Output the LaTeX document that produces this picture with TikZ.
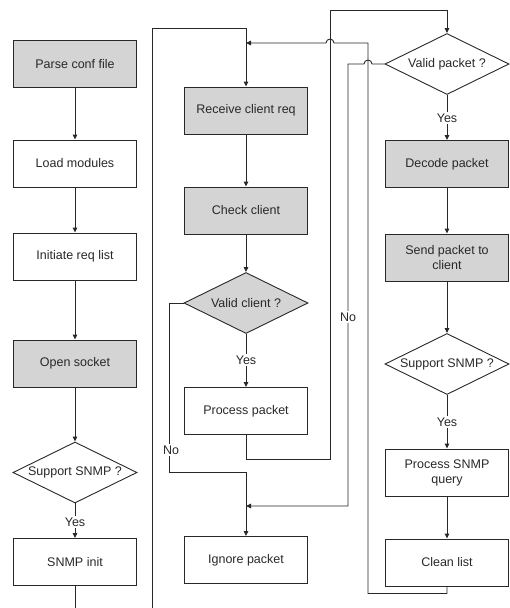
\documentclass[tikz,border=0pt]{standalone}
\usepackage{fontspec}
\setmainfont{Liberation Sans}
\usetikzlibrary{shapes.geometric,arrows.meta}
\definecolor{boxgray}{RGB}{212,212,212}
\definecolor{ink}{RGB}{40,40,40}
\begin{document}
\begin{tikzpicture}[x=1pt,y=-1pt,line width=0.9pt,draw=ink,
  every node/.style={font=\fontsize{12.5}{15}\selectfont,text=ink},
  proc/.style={draw=ink,rectangle,minimum width=123pt,minimum height=47pt,inner sep=0pt,align=center},
  shaded/.style={fill=boxgray},
  decide/.style={draw=ink,diamond,minimum width=124pt,minimum height=61pt,inner sep=0pt,aspect=2},
  lbl/.style={fill=white,inner sep=1.5pt},
  arr/.style={-{Triangle[length=5pt,width=4.5pt]}}]
\useasboundingbox (0,0) rectangle (509,608);
\node[proc,shaded] (parse) at (75,64) {Parse conf file};
\node[proc] (load) at (75,163.5) {Load modules};
\node[proc] (initreq) at (75,256.5) {Initiate req list};
\node[proc,shaded] (opensock) at (75,363.5) {Open socket};
\node[decide] (snmpL) at (75,472.5) {Support SNMP ?};
\node[proc] (snmpinit) at (75,562) {SNMP init};
\node[proc,shaded] (recv) at (246,110.5) {Receive client req};
\node[proc,shaded] (check) at (246,210.5) {Check client};
\node[decide,shaded] (validc) at (246,303) {Valid client ?};
\node[proc] (procpkt) at (246,411) {Process packet};
\node[proc] (ignore) at (246,560) {Ignore packet};
\node[decide] (validp) at (447,64) {Valid packet ?};
\node[proc,shaded] (decode) at (447,164) {Decode packet};
\node[proc,shaded] (sendpkt) at (447,257.5) {Send packet to\\client};
\node[decide] (snmpR) at (447,364) {Support SNMP ?};
\node[proc] (query) at (447,472.5) {Process SNMP\\query};
\node[proc] (clean) at (447,562.5) {Clean list};
\coordinate (leftout) at (75,608);
\coordinate (loopin) at (152,608);
\coordinate (ctop) at (246,28);
\coordinate (rjoin) at (246,43);
\coordinate (njoin) at (246,472);
\coordinate (nmerge) at (246,506);
\draw[arr] (parse) -- (load);
\draw[arr] (load) -- (initreq);
\draw[arr] (initreq) -- (opensock);
\draw[arr] (opensock) -- (snmpL);
\draw[arr] (snmpL) -- (snmpinit);
\node[lbl] (yes1) at (75,522) {Yes};
\draw (snmpinit) -- (leftout);
\draw[arr] (loopin) |- (ctop) -- (recv.north);
\draw[arr] (recv) -- (check);
\draw[arr] (check) -- (validc);
\draw[arr] (validc) -- (procpkt);
\node[lbl] (yes2) at (246,360) {Yes};
\draw[arr] (validc.west) -- ++(-14,0) |- (njoin) -- (ignore.north);
\node[lbl] (no1) at (171,450) {No};
\draw[arr] (procpkt.south) -- ++(0,24) -| (330,10) -| (validp.north);
\draw[arr] (validp.west) -- (372,64) arc (0:-180:4) -- (348,64) |- (nmerge);
\node[lbl] (no2) at (348,317) {No};
\draw[arr] (clean.south) -- ++(0,7) -| (368,43) -- (334,43) arc (0:-180:4) -- (rjoin);
\draw[arr] (validp) -- (decode);
\node[lbl] (yes3) at (447,118) {Yes};
\draw[arr] (decode) -- (sendpkt);
\draw[arr] (sendpkt) -- (snmpR);
\draw[arr] (snmpR) -- (query);
\node[lbl] (yes4) at (447,422) {Yes};
\draw[arr] (query) -- (clean);
\end{tikzpicture}
\end{document}
